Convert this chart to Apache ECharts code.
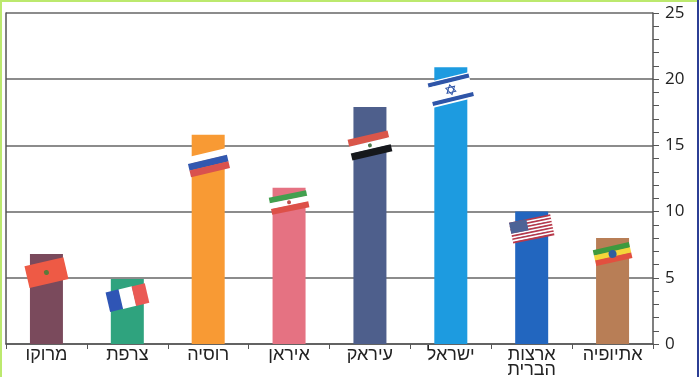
<!DOCTYPE html>
<html>
<head>
<meta charset="utf-8">
<style>
    html, body { margin: 0; padding: 0; background: #fff; }
    #frame {
        position: relative;
        width: 699px; height: 377px;
        overflow: hidden;
    }
    #frame .top { position: absolute; left: 0; top: 0; width: 699px; height: 2px; background: #bce96e; z-index: 2; }
    #frame .left { position: absolute; left: 0; top: 0; width: 2px; height: 377px; background: #bce96e; z-index: 2; }
    #frame .right { position: absolute; right: 0; top: 0; width: 2px; height: 377px; background: #2c3f95; z-index: 2; }
    #chart { width: 699px; height: 377px; }
</style>
</head>
<body>
<div id="frame">
    <div class="top"></div><div class="left"></div><div class="right"></div>
    <div id="chart"></div>
</div>
<script src="https://cdn.jsdelivr.net/npm/echarts@6/dist/echarts.min.js"></script>
<script>
// Countries, left to right
const categories = ["מרוקו", "צרפת", "רוסיה", "איראן", "עיראק", "ישראל", "ארצות\nהברית", "אתיופיה"];
const values = [6.8, 4.9, 15.8, 11.8, 17.9, 20.9, 10, 8];
const barColors = ["#7a4a5c", "#2fa37e", "#f89a34", "#e57282", "#4e5f8c", "#1d9be0", "#2266bf", "#b87e56"];
// Height on the value axis where each flag sits
const flagLevels = [5.4, 3.5, 13.7, 10.7, 15, 19.2, 8.7, 6.8];

const usStripes = [];
for (let i = 0; i < 13; i++) usStripes.push([i % 2 ? "#ffffff" : "#b8394a", 1]);

// Flag drawing styles, same order as categories
const flagStyles = [
    { w: 40, h: 22, stripes: [["#ee5a45", 1]], emblem: "dot", emblemColor: "#5c7a3a" },
    { w: 40, h: 20, vertical: true, stripes: [["#2f55b5", 1], ["#ffffff", 1], ["#ea5a55", 1]] },
    { w: 40, h: 20, stripes: [["#ffffff", 1], ["#3258b0", 1], ["#d9524e", 1]] },
    { w: 38, h: 17, stripes: [["#43a04f", 1], ["#ffffff", 1], ["#dd5048", 1]], emblem: "dot", emblemColor: "#c0504d", emblemSize: 2 },
    { w: 41, h: 21, stripes: [["#d9564a", 1], ["#ffffff", 1], ["#16181c", 1]], emblem: "dot", emblemColor: "#4d7a4d", emblemSize: 2 },
    { w: 42, h: 26, stripes: [["#ffffff", 1], ["#2f55a8", 3], ["#ffffff", 11], ["#2f55a8", 3], ["#ffffff", 1]], emblem: "star" },
    { w: 42, h: 21, stripes: usStripes, canton: "#4d6396" },
    { w: 37, h: 16, stripes: [["#3e9a3e", 1], ["#f4d63a", 1], ["#e2503f", 1]], emblem: "dot", emblemColor: "#2f5f9f", emblemSize: 4 },
];
const flagTilt = [0.23, 0.23, 0.23, 0.2, 0.23, 0.24, 0.2, 0.22];

function renderFlag(params, api) {
    const style = flagStyles[params.dataIndex];
    const center = api.coord([api.value(0), api.value(1)]);
    const total = style.stripes.reduce((sum, s) => sum + s[1], 0);
    const children = [];
    let offset = 0;
    for (const [color, weight] of style.stripes) {
        const part = weight / total;
        const shape = style.vertical
            ? { x: -style.w / 2 + offset * style.w, y: -style.h / 2, width: part * style.w + 0.3, height: style.h }
            : { x: -style.w / 2, y: -style.h / 2 + offset * style.h, width: style.w, height: part * style.h + 0.3 };
        children.push({ type: "rect", shape, style: { fill: color } });
        offset += part;
    }
    if (style.canton) {
        children.push({
            type: "rect",
            shape: { x: -style.w / 2, y: -style.h / 2, width: style.w * 0.42, height: style.h * 0.54 },
            style: { fill: style.canton },
        });
    }
    if (style.emblem === "dot") {
        children.push({
            type: "circle",
            shape: { cx: 0, cy: 0, r: style.emblemSize || 2.5 },
            style: { fill: style.emblemColor },
        });
    }
    if (style.emblem === "star") {
        children.push({
            type: "polygon",
            shape: { points: [[0, -5], [4.5, 2.6], [-4.5, 2.6]] },
            style: { fill: "none", stroke: "#2f55a8", lineWidth: 1 },
        });
        children.push({
            type: "polygon",
            shape: { points: [[0, 5], [4.5, -2.6], [-4.5, -2.6]] },
            style: { fill: "none", stroke: "#2f55a8", lineWidth: 1 },
        });
    }
    return {
        type: "group",
        x: center[0],
        y: center[1],
        rotation: flagTilt[params.dataIndex],
        children,
    };
}

const chart = echarts.init(document.getElementById("chart"), null, { renderer: "canvas" });
chart.setOption({
    animation: false,
    backgroundColor: "transparent",
    grid: { left: 6, right: 46, top: 13, bottom: 33, show: false, outerBoundsMode: "none" },
    xAxis: {
        type: "category",
        data: categories,
        axisLine: { show: true, lineStyle: { color: "#555", width: 1.5 } },
        axisTick: { show: true, alignWithLabel: false, length: 5, lineStyle: { color: "#555", width: 1 } },
        axisLabel: {
            interval: 0,
            margin: 4,
            color: "#222",
            fontFamily: "Liberation Sans",
            fontSize: 18,
            lineHeight: 15,
        },
    },
    yAxis: [
        {
            type: "value",
            position: "right",
            min: 0,
            max: 25,
            interval: 5,
            axisLine: { show: true, lineStyle: { color: "#555", width: 1.5 } },
            axisTick: { show: true, length: 6, lineStyle: { color: "#555", width: 1 } },
            minorTick: { show: true, splitNumber: 5, length: 6, lineStyle: { color: "#555", width: 1 } },
            axisLabel: { margin: 12, color: "#222", fontFamily: "Open Sans", fontSize: 17 },
            splitLine: { show: true, lineStyle: { color: "#666", width: 1.5 } },
        },
        {
            // left border line only
            type: "value",
            position: "left",
            min: 0,
            max: 25,
            interval: 5,
            axisLine: { show: true, lineStyle: { color: "#555", width: 1.5 } },
            axisTick: { show: false },
            axisLabel: { show: false },
            splitLine: { show: false },
        },
    ],
    series: [
        {
            type: "bar",
            data: values.map((v, i) => ({ value: v, itemStyle: { color: barColors[i] } })),
            barWidth: 33,
        },
        {
            type: "custom",
            data: flagLevels.map((level, i) => [i, level]),
            encode: { x: 0, y: 1 },
            renderItem: renderFlag,
            z: 5,
        },
    ],
});
</script>
</body>
</html>
